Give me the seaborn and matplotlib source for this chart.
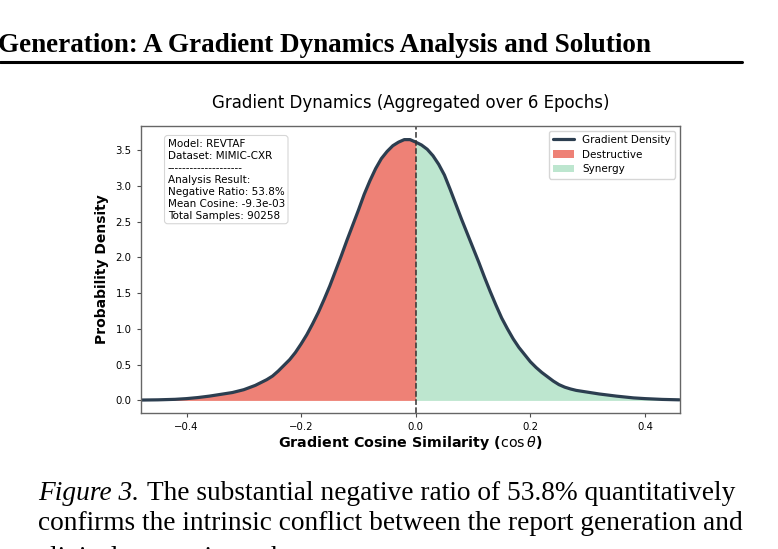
import numpy as np
import matplotlib
matplotlib.use("Agg")
import matplotlib.pyplot as plt
import seaborn as sns

# density curve (cosine similarity vs probability density)
cos_sim = np.array([-0.48, -0.45, -0.42, -0.40, -0.38, -0.36, -0.34, -0.32, -0.30, -0.29,
                    -0.28, -0.27, -0.26, -0.25, -0.24, -0.23, -0.22, -0.21, -0.20, -0.19,
                    -0.18, -0.17, -0.16, -0.15, -0.14, -0.13, -0.12, -0.11, -0.10, -0.09,
                    -0.08, -0.07, -0.06, -0.05, -0.04, -0.03, -0.02, -0.01, 0.0, 0.01,
                    0.02, 0.03, 0.04, 0.05, 0.06, 0.07, 0.08, 0.09, 0.10, 0.11,
                    0.12, 0.13, 0.14, 0.15, 0.16, 0.17, 0.18, 0.19, 0.20, 0.21,
                    0.22, 0.23, 0.24, 0.25, 0.26, 0.27, 0.28, 0.30, 0.32, 0.35,
                    0.38, 0.40, 0.43, 0.46])
density = np.array([0.005, 0.008, 0.015, 0.025, 0.04, 0.06, 0.085, 0.11, 0.15, 0.18,
                    0.21, 0.25, 0.29, 0.34, 0.41, 0.49, 0.57, 0.67, 0.79, 0.92,
                    1.07, 1.23, 1.41, 1.60, 1.81, 2.02, 2.24, 2.45, 2.66, 2.88,
                    3.07, 3.24, 3.38, 3.48, 3.56, 3.61, 3.645, 3.645, 3.61, 3.57,
                    3.51, 3.42, 3.30, 3.15, 2.95, 2.74, 2.53, 2.33, 2.13, 1.93,
                    1.72, 1.52, 1.33, 1.15, 1.00, 0.86, 0.74, 0.64, 0.54, 0.46,
                    0.39, 0.33, 0.27, 0.22, 0.185, 0.16, 0.14, 0.115, 0.09, 0.06,
                    0.035, 0.025, 0.014, 0.008])

x_ticks = [-0.4, -0.2, 0.0, 0.2, 0.4]
y_ticks = [0.0, 0.5, 1.0, 1.5, 2.0, 2.5, 3.0, 3.5]

info_lines = ["Model: REVTAF",
              "Dataset: MIMIC-CXR",
              "--------------------",
              "Analysis Result:",
              "Negative Ratio: 53.8%",
              "Mean Cosine: -9.3e-03",
              "Total Samples: 90258"]

header = "Generation: A Gradient Dynamics Analysis and Solution"
caption_lead = "Figure 3."
caption_lines = ["The substantial negative ratio of 53.8% quantitatively",
                 "confirms the intrinsic conflict between the report generation and",
                 "clinical constraint tasks."]

sns.set_style("ticks", {"axes.edgecolor": "0.4"})
plt.rcParams['font.family'] = ['DejaVu Sans']
plt.rcParams['text.color'] = 'black'
plt.rcParams['axes.labelcolor'] = 'black'
plt.rcParams['xtick.labelcolor'] = 'black'
plt.rcParams['ytick.labelcolor'] = 'black'

fig = plt.figure(figsize=(7.78, 5.49), dpi=100)
ax = fig.add_axes([0.1808, 0.2472, 0.6932, 0.5239])

neg = cos_sim <= 0
pos = cos_sim >= 0
ax.fill_between(cos_sim, density, where=neg, color='#e74c3c', alpha=0.7,
                linewidth=0, label='Destructive')
ax.fill_between(cos_sim, density, where=pos, color='#27ae60', alpha=0.3,
                linewidth=0, label='Synergy')
sns.lineplot(x=cos_sim, y=density, ax=ax, color='#2c3e50', linewidth=2.3,
             label='Gradient Density')
ax.axvline(0, color='#333333', linestyle='--', linewidth=1.1)

ax.set_xlim(-0.48, 0.461)
ax.set_ylim(-0.18, 3.84)
ax.set_xticks(x_ticks)
ax.set_yticks(y_ticks)
ax.tick_params(labelsize=7.3, length=3, width=0.8, color='0.3')
for s in ax.spines.values():
    s.set_linewidth(1.0)

ax.set_title("Gradient Dynamics (Aggregated over 6 Epochs)", fontsize=12, pad=13)
ax.set_xlabel(r"Gradient Cosine Similarity ($\cos\theta$)", fontsize=10.3,
              fontweight='bold', labelpad=1)
ax.set_ylabel("Probability Density", fontsize=10, fontweight='bold', labelpad=5)

# legend order: line first, then the two fills
h, l = ax.get_legend_handles_labels()
order = [l.index('Gradient Density'), l.index('Destructive'), l.index('Synergy')]
ax.legend([h[i] for i in order], [l[i] for i in order], loc='upper right',
          fontsize=7.5, framealpha=0.8, edgecolor='0.8', handlelength=2.0,
          borderpad=0.4, labelspacing=0.45, borderaxespad=0.5)

ax.text(0.05, 0.955, "\n".join(info_lines), transform=ax.transAxes, fontsize=7.5,
        va='top', ha='left', linespacing=1.25,
        bbox=dict(boxstyle='round,pad=0.3', facecolor='white', edgecolor='0.8',
                  alpha=0.8, linewidth=0.8))

# page header and caption around the figure
serif = ['Liberation Serif', 'DejaVu Serif']
fig.text(-0.002, 1 - 52 / 549, header, fontsize=19.5, fontweight='bold',
         family=serif, ha='left', va='baseline')
fig.add_artist(plt.Line2D([0, 742 / 778], [1 - 62 / 549] * 2, color='black',
                          linewidth=2.2, transform=fig.transFigure))

cap_size = 19.7
lead = fig.text(38 / 778, 1 - 500 / 549, caption_lead, fontsize=cap_size,
                style='italic', family=serif, ha='left', va='baseline')
renderer = fig.canvas.get_renderer()
lead_end = lead.get_window_extent(renderer).x1 / fig.bbox.width
fig.text(lead_end + 8 / 778, 1 - 500 / 549, caption_lines[0], fontsize=cap_size,
         family=serif, ha='left', va='baseline')
for i, (line, base) in enumerate(zip(caption_lines[1:], [530, 565]), start=1):
    fig.text(38 / 778, 1 - base / 549, line, fontsize=cap_size,
             family=serif, ha='left', va='baseline')

fig.savefig("out.png", dpi=100)
